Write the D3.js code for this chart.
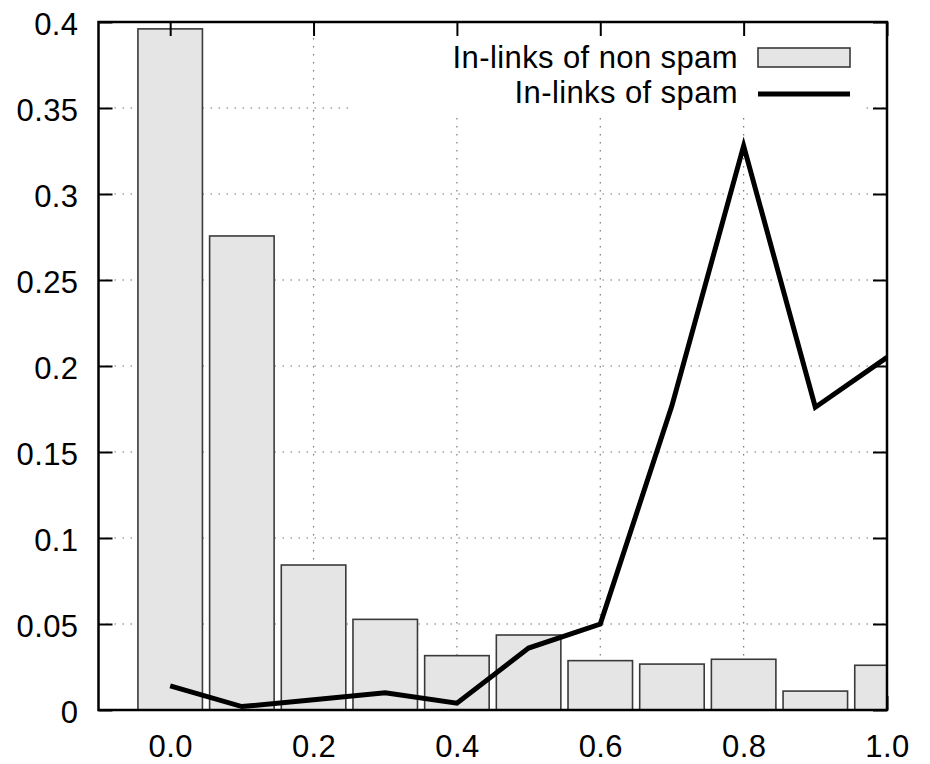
<!DOCTYPE html>
<html>
<head>
<meta charset="utf-8">
<script src="https://cdn.jsdelivr.net/npm/d3@7"></script>
<style>
  html, body { margin: 0; padding: 0; background: #fff; }
  svg text { font-family: "Liberation Sans", Arial, Helvetica, sans-serif; font-size: 31px; letter-spacing: 0.4px; fill: #000; }
</style>
</head>
<body>
<svg id="chart" width="930" height="764"></svg>
<script>
// Bin centres (fraction of in-links from spam)
const bins = [0.0, 0.1, 0.2, 0.3, 0.4, 0.5, 0.6, 0.7, 0.8, 0.9, 1.0];
// Share of non-spam hosts in each bin (histogram)
const nonSpam = [0.396, 0.2756, 0.0843, 0.0527, 0.0316, 0.0436, 0.0287, 0.0267, 0.0295, 0.011, 0.026];
// Share of spam hosts in each bin (line)
const spam = [0.014, 0.002, 0.006, 0.010, 0.004, 0.036, 0.050, 0.177, 0.328, 0.176, 0.205];
// Axis ticks
const yTicks = [0, 0.05, 0.1, 0.15, 0.2, 0.25, 0.3, 0.35, 0.4];
const yTickLabels = ["0", "0.05", "0.1", "0.15", "0.2", "0.25", "0.3", "0.35", "0.4"];
const xTicks = [0.0, 0.2, 0.4, 0.6, 0.8, 1.0];
const xTickLabels = ["0.0", "0.2", "0.4", "0.6", "0.8", "1.0"];
const seriesNames = ["In-links of non spam", "In-links of spam"];

const svg = d3.select("#chart");
const L = 98.5, R = 887, T = 22, B = 710;
const x = d3.scaleLinear().domain([-0.1, 1.0]).range([L, R]);
const y = d3.scaleLinear().domain([0, 0.4]).range([B, T]);
const barW = x(0.09) - x(0);

svg.append("defs").append("clipPath").attr("id", "plotclip")
  .append("rect").attr("x", L).attr("y", T).attr("width", R - L).attr("height", B - T);

// dotted grid
const grid = svg.append("g").attr("stroke", "#777").attr("stroke-width", 1.2)
  .attr("stroke-dasharray", "1.5,6.5");
grid.selectAll("line.gy").data(yTicks.filter(d => d > 0 && d < 0.4)).join("line")
  .attr("x1", L).attr("x2", R).attr("y1", d => y(d)).attr("y2", d => y(d));
grid.selectAll("line.gx").data(xTicks.filter(d => d < 1.0)).join("line")
  .attr("x1", d => x(d)).attr("x2", d => x(d)).attr("y1", T).attr("y2", B);

// key background hides the grid behind it
svg.append("rect").attr("x", 350).attr("y", T).attr("width", 516).attr("height", 90).attr("fill", "#fff");

// bottom ticks sit behind the bars
const bottomAxis = d3.axisBottom(x).tickValues(xTicks).tickSize(-14).tickPadding(25)
  .tickFormat((d, i) => xTickLabels[i]);
const gb = svg.append("g").attr("transform", `translate(0,${B})`).call(bottomAxis);
gb.select(".domain").remove();
gb.selectAll(".tick line").attr("stroke", "#000").attr("stroke-width", 2);

// histogram bars
const plot = svg.append("g").attr("clip-path", "url(#plotclip)");
plot.selectAll("rect.bar").data(bins.map((b, i) => ({ b, v: nonSpam[i] }))).join("rect")
  .attr("class", "bar")
  .attr("x", d => x(d.b) - barW / 2)
  .attr("width", barW)
  .attr("y", d => y(d.v))
  .attr("height", d => y(0) - y(d.v))
  .attr("fill", "#e5e5e5").attr("stroke", "#3a3a3a").attr("stroke-width", 1.6);

// spam line
const line = d3.line().x((d, i) => x(bins[i])).y(d => y(d));
plot.append("path").datum(spam).attr("d", line)
  .attr("fill", "none").attr("stroke", "#000").attr("stroke-width", 5)
  .attr("stroke-linejoin", "miter").attr("stroke-miterlimit", 10);

// left, right and top axes with inward ticks
const leftAxis = d3.axisLeft(y).tickValues(yTicks).tickSize(-14).tickPadding(20)
  .tickFormat((d, i) => yTickLabels[i]);
const gl = svg.append("g").attr("transform", `translate(${L},0)`).call(leftAxis);
gl.select(".domain").remove();
gl.selectAll(".tick line").attr("stroke", "#000").attr("stroke-width", 2);
gl.selectAll(".tick text").attr("dy", "12");

const rightAxis = d3.axisRight(y).tickValues(yTicks).tickSize(-14).tickFormat("");
const gr = svg.append("g").attr("transform", `translate(${R},0)`).call(rightAxis);
gr.select(".domain").remove();
gr.selectAll(".tick line").attr("stroke", "#000").attr("stroke-width", 2);

const topAxis = d3.axisTop(x).tickValues(xTicks).tickSize(-14).tickFormat("");
const gt = svg.append("g").attr("transform", `translate(0,${T})`).call(topAxis);
gt.select(".domain").remove();
gt.selectAll(".tick line").attr("stroke", "#000").attr("stroke-width", 2);

// frame
svg.append("rect").attr("x", L).attr("y", T).attr("width", R - L).attr("height", B - T)
  .attr("fill", "none").attr("stroke", "#000").attr("stroke-width", 2.5);

// key
const key = svg.append("g");
key.append("text").attr("x", 738).attr("y", 68).attr("text-anchor", "end").text(seriesNames[0]);
key.append("text").attr("x", 738).attr("y", 103).attr("text-anchor", "end").text(seriesNames[1]);
key.append("rect").attr("x", 758).attr("y", 48).attr("width", 92).attr("height", 19)
  .attr("fill", "#e5e5e5").attr("stroke", "#3a3a3a").attr("stroke-width", 1.6);
key.append("line").attr("x1", 758).attr("x2", 850).attr("y1", 94).attr("y2", 94)
  .attr("stroke", "#000").attr("stroke-width", 5);
</script>
</body>
</html>
